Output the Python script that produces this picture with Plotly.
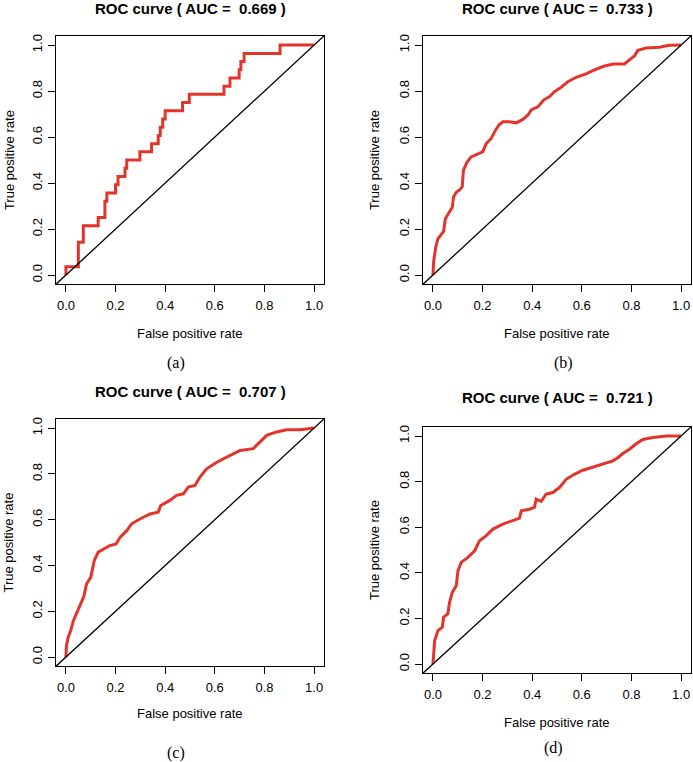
import plotly.graph_objects as go

W, H = 693, 762

# ---- data ----
titles = ["ROC curve ( AUC =  0.669 )", "ROC curve ( AUC =  0.733 )",
          "ROC curve ( AUC =  0.707 )", "ROC curve ( AUC =  0.721 )"]
sublabels = ["(a)", "(b)", "(c)", "(d)"]
tick_vals = [0.0, 0.2, 0.4, 0.6, 0.8, 1.0]
tick_text = ["0.0", "0.2", "0.4", "0.6", "0.8", "1.0"]

# panel (a): step curve
fpr_a = [0, 0, 0.05, 0.05, 0.06, 0.06, 0.07, 0.07, 0.13, 0.13, 0.157, 0.157, 0.165, 0.165,
         0.2, 0.2, 0.21, 0.21, 0.238, 0.238, 0.245, 0.245, 0.298, 0.298, 0.345, 0.345,
         0.372, 0.372, 0.38, 0.38, 0.39, 0.39, 0.40, 0.40, 0.47, 0.47, 0.497, 0.497,
         0.637, 0.637, 0.661, 0.661, 0.698, 0.698, 0.705, 0.705, 0.718, 0.718, 0.863, 0.863, 1.0]
tpr_a = [0, 0.036, 0.036, 0.143, 0.143, 0.143, 0.143, 0.214, 0.214, 0.25, 0.25, 0.321, 0.321, 0.357,
         0.357, 0.393, 0.393, 0.429, 0.429, 0.464, 0.464, 0.5, 0.5, 0.536, 0.536, 0.571,
         0.571, 0.607, 0.607, 0.643, 0.643, 0.679, 0.679, 0.714, 0.714, 0.75, 0.75, 0.786,
         0.786, 0.821, 0.821, 0.857, 0.857, 0.893, 0.893, 0.929, 0.929, 0.964, 0.964, 1.0, 1.0]

fpr_b = [0, 0, 0.003, 0.007, 0.011, 0.02, 0.034, 0.043, 0.05, 0.067, 0.078, 0.083, 0.094, 0.107,
         0.118, 0.123, 0.137, 0.154, 0.181, 0.2, 0.215, 0.235, 0.252, 0.266, 0.282, 0.309,
         0.336, 0.362, 0.383, 0.396, 0.423, 0.446, 0.47, 0.49, 0.517, 0.544, 0.577, 0.617,
         0.651, 0.685, 0.725, 0.772, 0.792, 0.812, 0.826, 0.859, 0.913, 0.953, 1.0]
tpr_b = [0, 0.033, 0.06, 0.09, 0.12, 0.157, 0.18, 0.19, 0.245, 0.274, 0.295, 0.34, 0.36, 0.37,
         0.383, 0.456, 0.49, 0.514, 0.528, 0.536, 0.572, 0.594, 0.63, 0.652, 0.667, 0.667,
         0.662, 0.677, 0.696, 0.718, 0.732, 0.761, 0.776, 0.798, 0.817, 0.841, 0.86, 0.875,
         0.892, 0.907, 0.918, 0.918, 0.936, 0.953, 0.977, 0.987, 0.991, 0.999, 1.0]

fpr_c = [0, 0.003, 0.002, 0.009, 0.019, 0.03, 0.046, 0.056, 0.073, 0.083, 0.1, 0.114, 0.13,
         0.151, 0.177, 0.202, 0.218, 0.245, 0.265, 0.298, 0.339, 0.372, 0.382, 0.419, 0.446,
         0.473, 0.493, 0.52, 0.54, 0.567, 0.608, 0.648, 0.702, 0.755, 0.782, 0.809, 0.849,
         0.89, 0.944, 1.0]
tpr_c = [0, 0.042, 0.05, 0.086, 0.115, 0.159, 0.203, 0.224, 0.268, 0.319, 0.348, 0.421, 0.458,
         0.472, 0.487, 0.494, 0.523, 0.552, 0.582, 0.603, 0.625, 0.633, 0.662, 0.684, 0.706,
         0.713, 0.742, 0.749, 0.786, 0.822, 0.851, 0.873, 0.902, 0.91, 0.939, 0.968, 0.983,
         0.993, 0.993, 1.0]

fpr_d = [0, 0.003, 0.007, 0.02, 0.038, 0.043, 0.06, 0.067, 0.078, 0.094, 0.101, 0.114, 0.141,
         0.168, 0.188, 0.215, 0.242, 0.282, 0.322, 0.349, 0.356, 0.389, 0.409, 0.416, 0.436,
         0.456, 0.483, 0.51, 0.537, 0.57, 0.604, 0.644, 0.685, 0.725, 0.745, 0.765, 0.792,
         0.819, 0.846, 0.886, 0.94, 1.0]
tpr_d = [0, 0.045, 0.103, 0.147, 0.162, 0.206, 0.22, 0.271, 0.315, 0.344, 0.41, 0.446, 0.468,
         0.497, 0.541, 0.563, 0.592, 0.614, 0.628, 0.64, 0.672, 0.679, 0.687, 0.723, 0.713,
         0.745, 0.752, 0.774, 0.81, 0.832, 0.85, 0.864, 0.876, 0.891, 0.905, 0.923, 0.942,
         0.966, 0.985, 0.993, 1.0, 1.0]

curves = [(fpr_a, tpr_a), (fpr_b, tpr_b), (fpr_c, tpr_c), (fpr_d, tpr_d)]
diag = [-0.1, 1.1]

# ---- layout geometry (pixels: left, right, top, bottom of plot box) ----
boxes = [(56, 324, 34, 283), (423, 691, 34, 283), (56, 324, 418, 666), (423, 691, 426, 673)]
title_y = [7, 7, 391, 397]
xtitle_y = [332, 332, 713, 722]
ytitle_x = [9, 374, 9, 374]
sub_pos = [(176, 362), (563, 362), (176, 753), (553, 748)]

RED = "#e3342b"
FONT = "Liberation Sans, Arial, sans-serif"

fig = go.Figure()
layout = dict(width=W, height=H, margin=dict(l=0, r=0, t=0, b=0),
              paper_bgcolor="white", plot_bgcolor="white", showlegend=False)
annotations = []

for i, ((fx, ty), (l, r, t, b)) in enumerate(zip(curves, boxes)):
    k = "" if i == 0 else str(i + 1)
    xa, ya = "x" + k, "y" + k
    fig.add_trace(go.Scatter(x=fx, y=ty, mode="lines", line=dict(color=RED, width=3),
                             xaxis=xa, yaxis=ya, hoverinfo="skip"))
    fig.add_trace(go.Scatter(x=diag, y=diag, mode="lines", line=dict(color="black", width=1.3),
                             xaxis=xa, yaxis=ya, hoverinfo="skip"))
    common = dict(range=[-0.04, 1.04], showgrid=False, zeroline=False, showline=True,
                  linecolor="black", linewidth=1, mirror=True, ticks="outside", ticklen=7,
                  tickcolor="black", tickwidth=1, tickvals=tick_vals, ticktext=tick_text,
                  ticklabeloverflow="allow",
                  tickfont=dict(family=FONT, size=13, color="black"))
    layout["xaxis" + k] = dict(common, domain=[l / W, r / W], anchor=ya, ticklabelstandoff=2)
    layout["yaxis" + k] = dict(common, domain=[1 - b / H, 1 - t / H], anchor=xa,
                               tickangle=-90, ticklabelstandoff=1)
    cx = (l + r) / 2
    cy = (t + b) / 2
    annotations.append(dict(text="<b>" + titles[i] + "</b>", x=cx / W, y=1 - title_y[i] / H,
                            xref="paper", yref="paper", showarrow=False, xanchor="center",
                            yanchor="middle", font=dict(family=FONT, size=15, color="black")))
    annotations.append(dict(text="False positive rate", x=cx / W, y=1 - xtitle_y[i] / H,
                            xref="paper", yref="paper", showarrow=False, xanchor="center",
                            yanchor="middle", font=dict(family=FONT, size=13, color="black")))
    annotations.append(dict(text="True positive rate", x=ytitle_x[i] / W, y=1 - cy / H,
                            xref="paper", yref="paper", showarrow=False, xanchor="center",
                            yanchor="middle", textangle=-90,
                            font=dict(family=FONT, size=13, color="black")))
    sx, sy = sub_pos[i]
    annotations.append(dict(text=sublabels[i], x=sx / W, y=1 - sy / H,
                            xref="paper", yref="paper", showarrow=False, xanchor="center",
                            yanchor="middle",
                            font=dict(family="Liberation Serif, Times New Roman, serif",
                                      size=16, color="black")))

layout["annotations"] = annotations
fig.update_layout(**layout)
fig.write_html("out.html", config={"displayModeBar": False},
               post_script="document.body.style.margin='0';")
